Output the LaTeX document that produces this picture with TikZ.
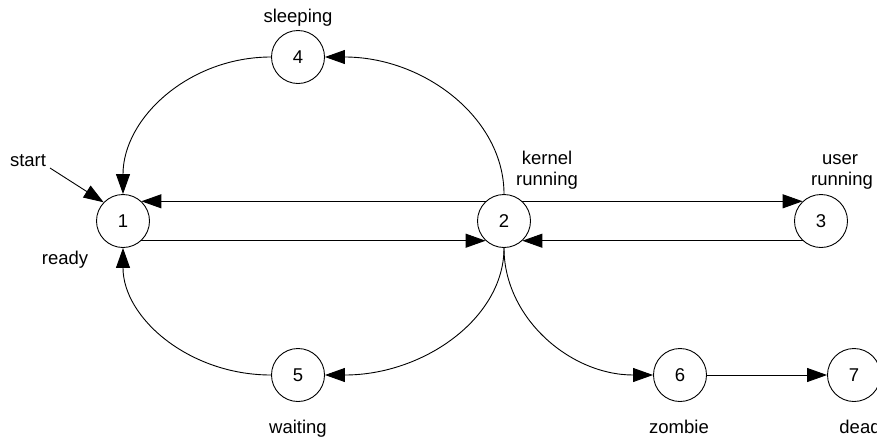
\documentclass[tikz,border=0pt]{standalone}
\usepackage{fontspec}
\setmainfont{Liberation Sans}
\usetikzlibrary{arrows.meta}
\begin{document}
\begin{tikzpicture}[x=1pt,y=-1pt,
  state/.style={draw,circle,minimum size=53pt,inner sep=0pt,line width=0.9pt,font=\fontsize{18.5}{21}\selectfont},
  lbl/.style={anchor=base,inner sep=0pt,font=\fontsize{18.5}{21}\selectfont,align=center},
  arr/.style={line width=0.9pt,-{Triangle[length=20pt,width=14pt]}}]
\useasboundingbox (0,0) rectangle (877,440);
% states
\node[state] (n1) at (123,221) {1};
\node[state] (n2) at (504,221) {2};
\node[state] (n3) at (821,221) {3};
\node[state] (n4) at (298,57) {4};
\node[state] (n5) at (298,375) {5};
\node[state] (n6) at (680,375) {6};
\node[state] (n7) at (854,375) {7};
% labels
\node[lbl] (lstart) at (28,166) {start};
\node[lbl] (lready) at (65,264) {ready};
\node[lbl] (lsleep) at (298,22) {sleeping};
\node[lbl] (lkern1) at (547,164) {kernel};
\node[lbl] (lkern2) at (547,185) {running};
\node[lbl] (luser1) at (840,164) {user};
\node[lbl] (luser2) at (842,185) {running};
\node[lbl] (lwait) at (298,433) {waiting};
\node[lbl] (lzomb) at (679,433) {zombie};
\node[lbl] (ldead) at (860,433) {dead};
% edges
\coordinate (s) at (50,168);
\draw[arr] (s) -- (n1.136);
\draw[arr] (n2.133) -- (n1.47);
\draw[arr] (n1.-47) -- (n2.227);
\draw[arr] (n2.47) -- (n3.133);
\draw[arr] (n3.227) -- (n2.-47);
\draw[arr] (n2.north) .. controls +(0,-76) and +(99,0) .. (n4.east);
\draw[arr] (n4.west) .. controls +(-82,0) and +(0,-76) .. (n1.north);
\draw[arr] (n2.south) .. controls +(0,70) and +(99,0) .. (n5.east);
\draw[arr] (n5.west) .. controls +(-82,0) and +(0,70) .. (n1.south);
\draw[arr] (n2.south) .. controls +(0,70) and +(-83,0) .. (n6.west);
\draw[arr] (n6.east) -- (n7.west);
\end{tikzpicture}
\end{document}
